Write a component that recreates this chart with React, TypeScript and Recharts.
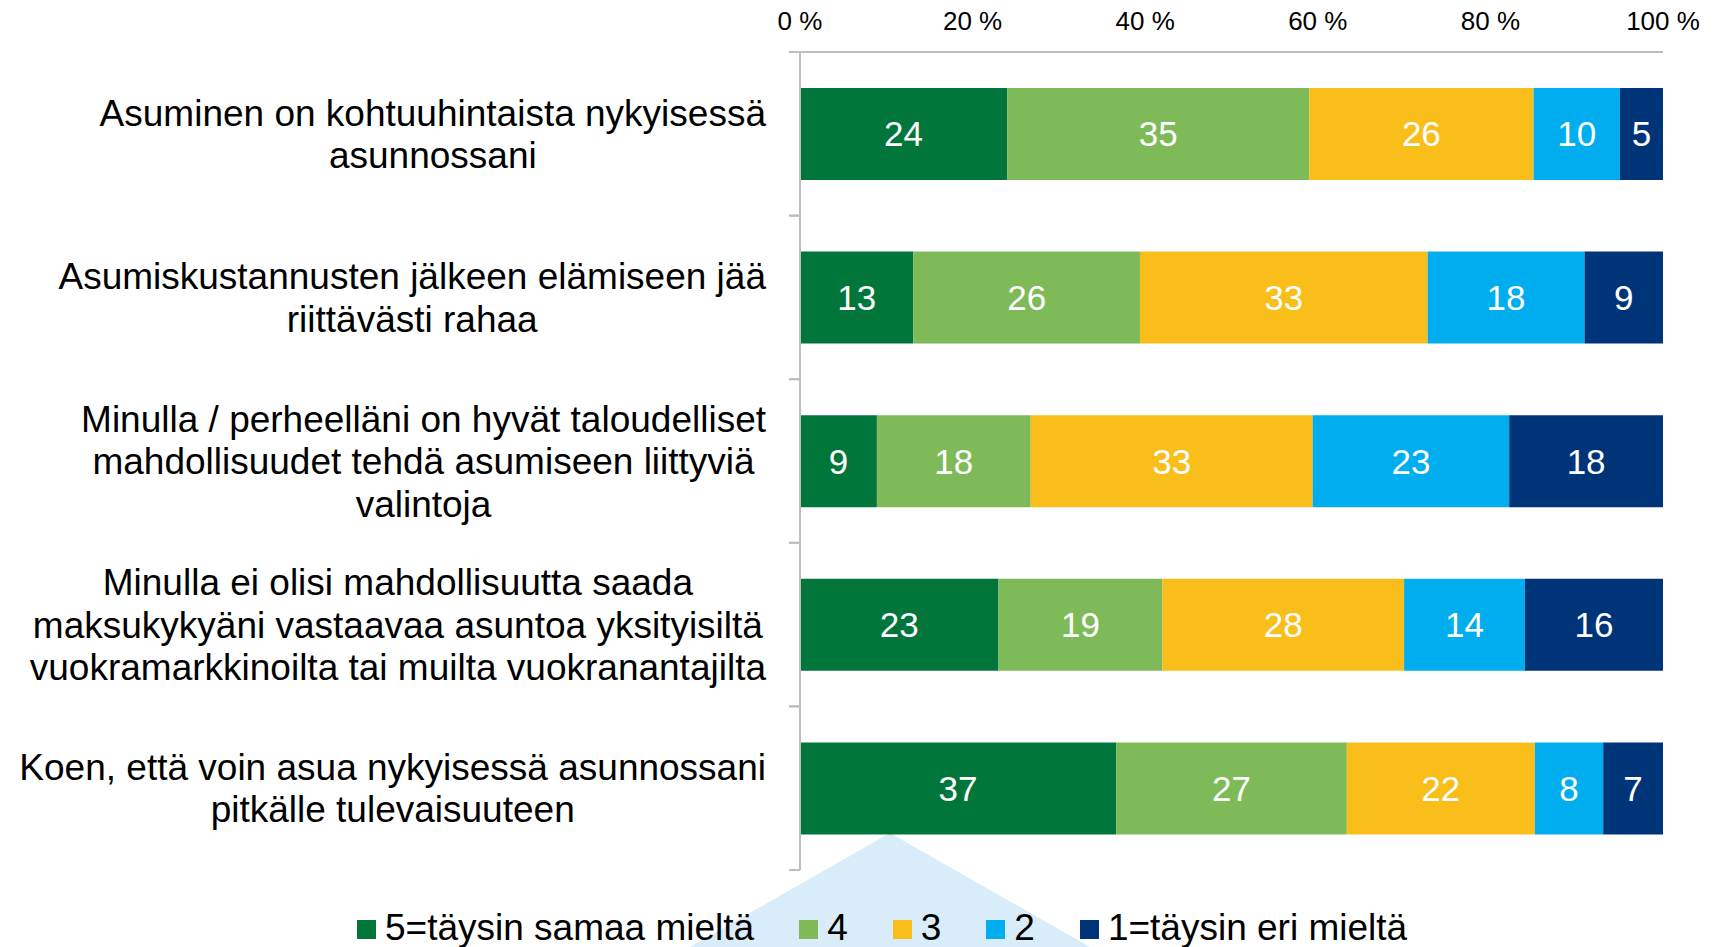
import React from 'react';
import { BarChart, Bar, XAxis, YAxis, Legend, LabelList } from 'recharts';

const FONT = '"Liberation Sans", Arial, sans-serif';
const AXIS_GRAY = '#BDBDBD';
const LABEL_GAP = 34;

// category labels, line breaks as in the original
const categories = [
  'Asuminen on kohtuuhintaista nykyisessä\nasunnossani',
  'Asumiskustannusten jälkeen elämiseen jää\nriittävästi rahaa',
  'Minulla / perheelläni on hyvät taloudelliset\nmahdollisuudet tehdä asumiseen liittyviä\nvalintoja',
  'Minulla ei olisi mahdollisuutta saada\nmaksukykyäni vastaavaa asuntoa yksityisiltä\nvuokramarkkinoilta tai muilta vuokranantajilta',
  'Koen, että voin asua nykyisessä asunnossani\npitkälle tulevaisuuteen',
];

const fullyAgree = [24, 13, 9, 23, 37];
const agree = [35, 26, 18, 19, 27];
const neutral = [26, 33, 33, 28, 22];
const disagree = [10, 18, 23, 14, 8];
const fullyDisagree = [5, 9, 18, 16, 7];

const seriesNames = ['5=täysin samaa mieltä', '4', '3', '2', '1=täysin eri mieltä'];
const seriesKeys = ['s5', 's4', 's3', 's2', 's1'];
const seriesColors = ['#00763B', '#7FBA58', '#F9BE1A', '#00AEEF', '#003478'];

const percentTicks = [0, 0.2, 0.4, 0.6, 0.8, 1];

const rows = categories.map((name, i) => ({
  name,
  s5: fullyAgree[i],
  s4: agree[i],
  s3: neutral[i],
  s2: disagree[i],
  s1: fullyDisagree[i],
}));

const LABEL_FONT = `37px ${FONT}`;
let measureCtx: CanvasRenderingContext2D | null = null;
function textWidth(s: string) {
  if (!measureCtx) measureCtx = document.createElement('canvas').getContext('2d');
  if (!measureCtx) return s.length * 18;
  measureCtx.font = LABEL_FONT;
  return measureCtx.measureText(s).width;
}

// multi-line label, lines centered inside a right-aligned block,
// plus the small tick marks on the band edges (Excel style)
function CategoryTick({ x, y, payload }: any) {
  const lines = String(payload.value).split('\n');
  const widest = Math.max(...lines.map(textWidth));
  const cx = x - widest / 2;
  const axisX = x + LABEL_GAP;
  const half = typeof payload.offset === 'number' ? payload.offset : 0;
  return (
    <g>
      {half > 0 && (
        <>
          <line x1={axisX - 11} x2={axisX} y1={y - half} y2={y - half} stroke={AXIS_GRAY} strokeWidth={2} />
          <line x1={axisX - 11} x2={axisX} y1={y + half} y2={y + half} stroke={AXIS_GRAY} strokeWidth={2} />
        </>
      )}
      {lines.map((line, i) => (
        <text
          key={i}
          x={cx}
          y={y + (i - (lines.length - 1) / 2) * 42.5 + 13}
          textAnchor="middle"
          fontSize={37}
          fontFamily={FONT}
          fill="#000"
        >
          {line}
        </text>
      ))}
    </g>
  );
}

function LegendContent({ payload }: any) {
  // vertical layout hands the payload over reversed, put it back in series order
  const items = [...(payload || [])].sort(
    (a: any, b: any) => seriesNames.indexOf(a.value) - seriesNames.indexOf(b.value)
  );
  return (
    <div style={{ display: 'flex', alignItems: 'center', fontFamily: FONT, fontSize: 37, lineHeight: '40px', color: '#000' }}>
      {items.map((p: any, i: number) => (
        <div key={i} style={{ display: 'flex', alignItems: 'center', marginRight: 45, whiteSpace: 'nowrap' }}>
          <span style={{ display: 'inline-block', width: 19, height: 19, background: p.color, marginRight: 9, marginTop: 2 }} />
          <span>{p.value}</span>
        </div>
      ))}
    </div>
  );
}

export default function App() {
  return (
    <div style={{ position: 'absolute', left: 0, top: 0, width: 1717, height: 947, overflow: 'hidden', background: '#fff' }}>
      {/* pale callout shape behind the legend */}
      <svg width={1717} height={947} style={{ position: 'absolute', left: 0, top: 0 }}>
        <polygon points="890,833 690,947 1090,947" fill="#D8ECF9" />
      </svg>
      <div style={{ position: 'absolute', left: 0, top: 0 }}>
        <BarChart
          width={1717}
          height={947}
          data={rows}
          layout="vertical"
          stackOffset="expand"
          barCategoryGap="22%"
          margin={{ top: 0, right: 54, bottom: 77, left: 0 }}
          style={{ fontFamily: FONT }}
        >
          <XAxis
            type="number"
            orientation="top"
            domain={[0, 1]}
            ticks={percentTicks}
            tickFormatter={(v: number) => `${Math.round(v * 100)} %`}
            tick={{ fontSize: 26, fill: '#000', fontFamily: FONT }}
            tickLine={false}
            tickSize={0}
            tickMargin={22}
            height={52}
            axisLine={{ stroke: AXIS_GRAY, strokeWidth: 2 }}
          />
          <YAxis
            type="category"
            dataKey="name"
            width={800}
            tickLine={false}
            axisLine={{ stroke: AXIS_GRAY, strokeWidth: 2 }}
            tickSize={0}
            tickMargin={LABEL_GAP}
            tick={<CategoryTick />}
            interval={0}
          />
          {seriesKeys.map((key, i) => (
            <Bar
              key={key}
              dataKey={key}
              name={seriesNames[i]}
              stackId="a"
              fill={seriesColors[i]}
              isAnimationActive={false}
            >
              <LabelList dataKey={key} position="center" fill="#fff" fontSize={35} fontFamily={FONT} />
            </Bar>
          ))}
          <Legend
            layout="horizontal"
            verticalAlign="middle"
            align="center"
            content={<LegendContent />}
            wrapperStyle={{ top: 908, left: 357, width: 1340, height: 40 }}
          />
        </BarChart>
      </div>
    </div>
  );
}
